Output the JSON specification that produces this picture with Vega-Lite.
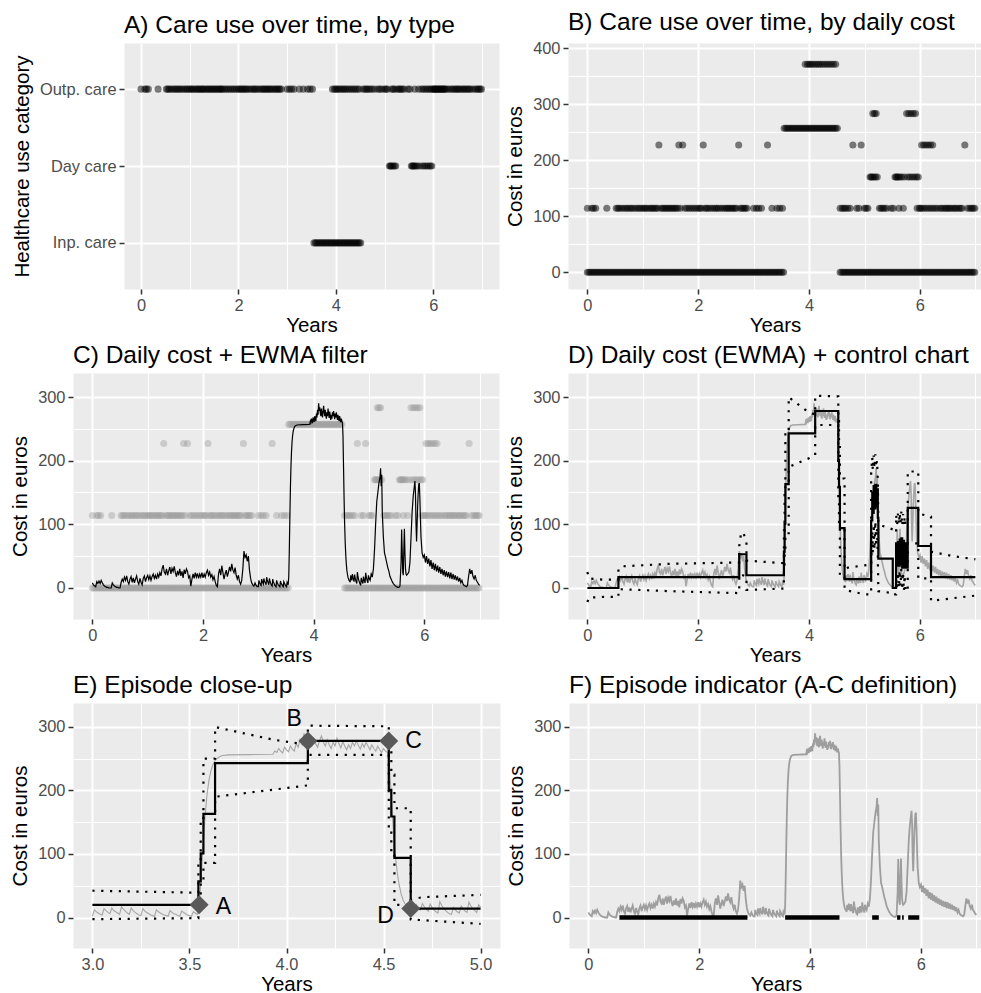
{
"$schema": "https://vega.github.io/schema/vega-lite/v6.json",
"background": "white",
"padding": {"left": 10, "top": 9, "right": 0, "bottom": 0},
"autosize": {"type": "pad"},
"config": {
  "font": "Liberation Sans",
  "view": {"fill": "#EBEBEB", "stroke": "transparent"},
  "axis": {"domain": false, "gridColor": "#FFFFFF", "gridWidth": 2, "tickColor": "#333333", "tickSize": 5, "tickWidth": 1.5, "labelColor": "#4D4D4D", "labelFont": "Liberation Sans", "labelFontSize": 16.4, "labelPadding": 3, "titleFont": "Liberation Sans", "titleFontSize": 20.5, "titleFontWeight": "normal", "titleColor": "#000000", "labelFlush": false, "labelOverlap": false},
  "axisX": {"titlePadding": 2},
  "axisY": {"titlePadding": 7},
  "title": {"anchor": "start", "frame": "group", "font": "Liberation Sans", "fontSize": 24.5, "fontWeight": "normal", "color": "#000000", "offset": 5, "baseline": "alphabetic"}
},
"datasets": {
"days": [
{"t":0,"v":0},{"t":0.03,"v":0},{"t":0.06,"v":0},{"t":0.09,"v":0},{"t":0.12,"v":0},{"t":0.15,"v":0},{"t":0.18,"v":0},{"t":0.21,"v":0},{"t":0.24,"v":0},{"t":0.27,"v":0},{"t":0.3,"v":0},{"t":0.33,"v":0},{"t":0.36,"v":0},{"t":0.39,"v":0},{"t":0.42,"v":0},{"t":0.45,"v":0},{"t":0.48,"v":0},{"t":0.51,"v":0},{"t":0.54,"v":0},{"t":0.57,"v":0},{"t":0.6,"v":0},{"t":0.63,"v":0},{"t":0.66,"v":0},{"t":0.69,"v":0},{"t":0.72,"v":0},{"t":0.75,"v":0},{"t":0.78,"v":0},{"t":0.81,"v":0},{"t":0.84,"v":0},{"t":0.87,"v":0},{"t":0.9,"v":0},{"t":0.93,"v":0},{"t":0.96,"v":0},{"t":0.99,"v":0},{"t":1.02,"v":0},{"t":1.05,"v":0},{"t":1.08,"v":0},{"t":1.11,"v":0},{"t":1.14,"v":0},{"t":1.17,"v":0},{"t":1.2,"v":0},{"t":1.23,"v":0},{"t":1.26,"v":0},{"t":1.29,"v":0},{"t":1.32,"v":0},{"t":1.35,"v":0},{"t":1.38,"v":0},{"t":1.41,"v":0},{"t":1.44,"v":0},{"t":1.47,"v":0},{"t":1.5,"v":0},{"t":1.53,"v":0},{"t":1.56,"v":0},{"t":1.59,"v":0},{"t":1.62,"v":0},{"t":1.65,"v":0},{"t":1.68,"v":0},{"t":1.71,"v":0},{"t":1.74,"v":0},{"t":1.77,"v":0},{"t":1.8,"v":0},{"t":1.83,"v":0},{"t":1.86,"v":0},{"t":1.89,"v":0},{"t":1.92,"v":0},{"t":1.95,"v":0},{"t":1.98,"v":0},{"t":2.01,"v":0},{"t":2.04,"v":0},{"t":2.07,"v":0},{"t":2.1,"v":0},{"t":2.13,"v":0},{"t":2.16,"v":0},{"t":2.19,"v":0},{"t":2.22,"v":0},{"t":2.25,"v":0},{"t":2.28,"v":0},{"t":2.31,"v":0},{"t":2.34,"v":0},{"t":2.37,"v":0},{"t":2.4,"v":0},{"t":2.43,"v":0},{"t":2.46,"v":0},{"t":2.49,"v":0},{"t":2.52,"v":0},{"t":2.55,"v":0},{"t":2.58,"v":0},{"t":2.61,"v":0},{"t":2.64,"v":0},{"t":2.67,"v":0},{"t":2.7,"v":0},{"t":2.73,"v":0},{"t":2.76,"v":0},{"t":2.79,"v":0},{"t":2.82,"v":0},{"t":2.85,"v":0},{"t":2.88,"v":0},{"t":2.91,"v":0},{"t":2.94,"v":0},{"t":2.97,"v":0},{"t":3,"v":0},{"t":3.03,"v":0},{"t":3.06,"v":0},{"t":3.09,"v":0},{"t":3.12,"v":0},{"t":3.15,"v":0},{"t":3.18,"v":0},{"t":3.21,"v":0},{"t":3.24,"v":0},{"t":3.27,"v":0},{"t":3.3,"v":0},{"t":3.33,"v":0},{"t":3.36,"v":0},{"t":3.39,"v":0},{"t":3.42,"v":0},{"t":3.45,"v":0},{"t":3.48,"v":0},{"t":3.51,"v":0},{"t":3.54,"v":0},
{"t":4.56,"v":0},{"t":4.59,"v":0},{"t":4.62,"v":0},{"t":4.65,"v":0},{"t":4.68,"v":0},{"t":4.71,"v":0},{"t":4.74,"v":0},{"t":4.77,"v":0},{"t":4.8,"v":0},{"t":4.83,"v":0},{"t":4.86,"v":0},{"t":4.89,"v":0},{"t":4.92,"v":0},{"t":4.95,"v":0},{"t":4.98,"v":0},{"t":5.01,"v":0},{"t":5.04,"v":0},{"t":5.07,"v":0},{"t":5.1,"v":0},{"t":5.13,"v":0},{"t":5.16,"v":0},{"t":5.19,"v":0},{"t":5.22,"v":0},{"t":5.25,"v":0},{"t":5.28,"v":0},{"t":5.31,"v":0},{"t":5.34,"v":0},{"t":5.37,"v":0},{"t":5.4,"v":0},{"t":5.43,"v":0},{"t":5.46,"v":0},{"t":5.49,"v":0},{"t":5.52,"v":0},{"t":5.55,"v":0},{"t":5.58,"v":0},{"t":5.61,"v":0},{"t":5.64,"v":0},{"t":5.67,"v":0},{"t":5.7,"v":0},{"t":5.73,"v":0},{"t":5.76,"v":0},{"t":5.79,"v":0},{"t":5.82,"v":0},{"t":5.85,"v":0},{"t":5.88,"v":0},{"t":5.91,"v":0},{"t":5.94,"v":0},{"t":5.97,"v":0},{"t":6,"v":0},{"t":6.03,"v":0},{"t":6.06,"v":0},{"t":6.09,"v":0},{"t":6.12,"v":0},{"t":6.15,"v":0},{"t":6.18,"v":0},{"t":6.21,"v":0},{"t":6.24,"v":0},{"t":6.27,"v":0},{"t":6.3,"v":0},{"t":6.33,"v":0},{"t":6.36,"v":0},{"t":6.39,"v":0},{"t":6.42,"v":0},{"t":6.45,"v":0},{"t":6.48,"v":0},{"t":6.51,"v":0},{"t":6.54,"v":0},{"t":6.57,"v":0},{"t":6.6,"v":0},{"t":6.63,"v":0},{"t":6.66,"v":0},{"t":6.69,"v":0},{"t":6.72,"v":0},{"t":6.75,"v":0},{"t":6.78,"v":0},{"t":6.81,"v":0},{"t":6.84,"v":0},{"t":6.87,"v":0},{"t":6.9,"v":0},{"t":6.93,"v":0},{"t":6.96,"v":0},{"t":6.99,"v":0},
{"t":3.55,"v":257,"k":"Inp. care"},{"t":3.58,"v":257,"k":"Inp. care"},{"t":3.61,"v":257,"k":"Inp. care"},{"t":3.64,"v":257,"k":"Inp. care"},{"t":3.67,"v":257,"k":"Inp. care"},{"t":3.7,"v":257,"k":"Inp. care"},{"t":3.73,"v":257,"k":"Inp. care"},{"t":3.76,"v":257,"k":"Inp. care"},{"t":3.79,"v":257,"k":"Inp. care"},{"t":3.82,"v":257,"k":"Inp. care"},{"t":3.85,"v":257,"k":"Inp. care"},{"t":3.88,"v":257,"k":"Inp. care"},{"t":3.91,"v":257,"k":"Inp. care"},{"t":3.94,"v":257,"k":"Inp. care"},{"t":3.97,"v":257,"k":"Inp. care"},{"t":4,"v":257,"k":"Inp. care"},{"t":4.03,"v":257,"k":"Inp. care"},{"t":4.06,"v":257,"k":"Inp. care"},{"t":4.09,"v":257,"k":"Inp. care"},{"t":4.12,"v":257,"k":"Inp. care"},{"t":4.15,"v":257,"k":"Inp. care"},{"t":4.18,"v":257,"k":"Inp. care"},{"t":4.21,"v":257,"k":"Inp. care"},{"t":4.24,"v":257,"k":"Inp. care"},{"t":4.27,"v":257,"k":"Inp. care"},{"t":4.3,"v":257,"k":"Inp. care"},{"t":4.33,"v":257,"k":"Inp. care"},{"t":4.36,"v":257,"k":"Inp. care"},{"t":4.39,"v":257,"k":"Inp. care"},{"t":4.42,"v":257,"k":"Inp. care"},{"t":4.45,"v":257,"k":"Inp. care"},{"t":4.48,"v":257,"k":"Inp. care"},{"t":4.51,"v":257,"k":"Inp. care"},
{"t":3.93,"v":371,"k":"Outp. care"},{"t":3.97,"v":371,"k":"Outp. care"},{"t":4,"v":371,"k":"Outp. care"},{"t":4.03,"v":371,"k":"Outp. care"},{"t":4.06,"v":371,"k":"Outp. care"},{"t":4.1,"v":371,"k":"Outp. care"},{"t":4.13,"v":371,"k":"Outp. care"},{"t":4.17,"v":371,"k":"Outp. care"},{"t":4.2,"v":371,"k":"Outp. care"},{"t":4.24,"v":371,"k":"Outp. care"},{"t":4.28,"v":371,"k":"Outp. care"},{"t":4.32,"v":371,"k":"Outp. care"},{"t":4.36,"v":371,"k":"Outp. care"},{"t":4.4,"v":371,"k":"Outp. care"},{"t":4.44,"v":371,"k":"Outp. care"},{"t":4.48,"v":371,"k":"Outp. care"},
{"t":0,"v":114,"k":"Outp. care"},{"t":0.08,"v":114,"k":"Outp. care"},{"t":0.11,"v":114,"k":"Outp. care"},{"t":0.15,"v":114,"k":"Outp. care"},{"t":0.35,"v":114,"k":"Outp. care"},{"t":0.52,"v":114,"k":"Outp. care"},{"t":0.55,"v":114,"k":"Outp. care"},{"t":0.58,"v":114,"k":"Outp. care"},{"t":0.62,"v":114,"k":"Outp. care"},{"t":0.66,"v":114,"k":"Outp. care"},{"t":0.7,"v":114,"k":"Outp. care"},{"t":0.73,"v":114,"k":"Outp. care"},{"t":0.77,"v":114,"k":"Outp. care"},{"t":0.8,"v":114,"k":"Outp. care"},{"t":0.84,"v":114,"k":"Outp. care"},{"t":0.88,"v":114,"k":"Outp. care"},{"t":0.92,"v":114,"k":"Outp. care"},{"t":0.95,"v":114,"k":"Outp. care"},{"t":0.99,"v":114,"k":"Outp. care"},{"t":1.02,"v":114,"k":"Outp. care"},{"t":1.05,"v":114,"k":"Outp. care"},{"t":1.08,"v":114,"k":"Outp. care"},{"t":1.12,"v":114,"k":"Outp. care"},{"t":1.15,"v":114,"k":"Outp. care"},{"t":1.18,"v":114,"k":"Outp. care"},{"t":1.21,"v":114,"k":"Outp. care"},{"t":1.24,"v":114,"k":"Outp. care"},{"t":1.27,"v":114,"k":"Outp. care"},{"t":1.33,"v":114,"k":"Outp. care"},{"t":1.36,"v":114,"k":"Outp. care"},{"t":1.39,"v":114,"k":"Outp. care"},{"t":1.42,"v":114,"k":"Outp. care"},{"t":1.45,"v":114,"k":"Outp. care"},{"t":1.48,"v":114,"k":"Outp. care"},{"t":1.51,"v":114,"k":"Outp. care"},{"t":1.54,"v":114,"k":"Outp. care"},{"t":1.57,"v":114,"k":"Outp. care"},{"t":1.6,"v":114,"k":"Outp. care"},{"t":1.63,"v":114,"k":"Outp. care"},{"t":1.68,"v":114,"k":"Outp. care"},{"t":1.76,"v":114,"k":"Outp. care"},{"t":1.8,"v":114,"k":"Outp. care"},{"t":1.84,"v":114,"k":"Outp. care"},{"t":1.88,"v":114,"k":"Outp. care"},{"t":1.92,"v":114,"k":"Outp. care"},{"t":1.96,"v":114,"k":"Outp. care"},{"t":2,"v":114,"k":"Outp. care"},{"t":2.03,"v":114,"k":"Outp. care"},{"t":2.06,"v":114,"k":"Outp. care"},{"t":2.12,"v":114,"k":"Outp. care"},{"t":2.15,"v":114,"k":"Outp. care"},{"t":2.18,"v":114,"k":"Outp. care"},{"t":2.22,"v":114,"k":"Outp. care"},{"t":2.26,"v":114,"k":"Outp. care"},{"t":2.3,"v":114,"k":"Outp. care"},{"t":2.33,"v":114,"k":"Outp. care"},{"t":2.36,"v":114,"k":"Outp. care"},{"t":2.4,"v":114,"k":"Outp. care"},{"t":2.44,"v":114,"k":"Outp. care"},{"t":2.48,"v":114,"k":"Outp. care"},{"t":2.51,"v":114,"k":"Outp. care"},{"t":2.54,"v":114,"k":"Outp. care"},{"t":2.57,"v":114,"k":"Outp. care"},{"t":2.6,"v":114,"k":"Outp. care"},{"t":2.63,"v":114,"k":"Outp. care"},{"t":2.66,"v":114,"k":"Outp. care"},{"t":2.69,"v":114,"k":"Outp. care"},{"t":2.76,"v":114,"k":"Outp. care"},{"t":2.79,"v":114,"k":"Outp. care"},{"t":2.82,"v":114,"k":"Outp. care"},{"t":2.85,"v":114,"k":"Outp. care"},{"t":2.88,"v":114,"k":"Outp. care"},{"t":3,"v":114,"k":"Outp. care"},{"t":3.05,"v":114,"k":"Outp. care"},{"t":3.09,"v":114,"k":"Outp. care"},{"t":3.14,"v":114,"k":"Outp. care"},{"t":3.33,"v":114,"k":"Outp. care"},{"t":3.42,"v":114,"k":"Outp. care"},{"t":3.47,"v":114,"k":"Outp. care"},{"t":3.52,"v":114,"k":"Outp. care"},{"t":4.56,"v":114,"k":"Outp. care"},{"t":4.6,"v":114,"k":"Outp. care"},{"t":4.63,"v":114,"k":"Outp. care"},{"t":4.66,"v":114,"k":"Outp. care"},{"t":4.7,"v":114,"k":"Outp. care"},{"t":4.74,"v":114,"k":"Outp. care"},{"t":4.86,"v":114,"k":"Outp. care"},{"t":4.9,"v":114,"k":"Outp. care"},{"t":5,"v":114,"k":"Outp. care"},{"t":5.03,"v":114,"k":"Outp. care"},{"t":5.06,"v":114,"k":"Outp. care"},{"t":5.27,"v":114,"k":"Outp. care"},{"t":5.3,"v":114,"k":"Outp. care"},{"t":5.33,"v":114,"k":"Outp. care"},{"t":5.36,"v":114,"k":"Outp. care"},{"t":5.4,"v":114,"k":"Outp. care"},{"t":5.48,"v":114,"k":"Outp. care"},{"t":5.52,"v":114,"k":"Outp. care"},{"t":5.62,"v":114,"k":"Outp. care"},{"t":5.7,"v":114,"k":"Outp. care"},{"t":5.95,"v":114,"k":"Outp. care"},{"t":5.99,"v":114,"k":"Outp. care"},{"t":6.01,"v":114,"k":"Outp. care"},{"t":6.04,"v":114,"k":"Outp. care"},{"t":6.08,"v":114,"k":"Outp. care"},{"t":6.12,"v":114,"k":"Outp. care"},{"t":6.16,"v":114,"k":"Outp. care"},{"t":6.2,"v":114,"k":"Outp. care"},{"t":6.24,"v":114,"k":"Outp. care"},{"t":6.28,"v":114,"k":"Outp. care"},{"t":6.32,"v":114,"k":"Outp. care"},{"t":6.37,"v":114,"k":"Outp. care"},{"t":6.4,"v":114,"k":"Outp. care"},{"t":6.44,"v":114,"k":"Outp. care"},{"t":6.47,"v":114,"k":"Outp. care"},{"t":6.5,"v":114,"k":"Outp. care"},{"t":6.53,"v":114,"k":"Outp. care"},{"t":6.56,"v":114,"k":"Outp. care"},{"t":6.6,"v":114,"k":"Outp. care"},{"t":6.63,"v":114,"k":"Outp. care"},{"t":6.66,"v":114,"k":"Outp. care"},{"t":6.7,"v":114,"k":"Outp. care"},{"t":6.73,"v":114,"k":"Outp. care"},{"t":6.76,"v":114,"k":"Outp. care"},{"t":6.86,"v":114,"k":"Outp. care"},{"t":6.9,"v":114,"k":"Outp. care"},{"t":6.93,"v":114,"k":"Outp. care"},{"t":6.96,"v":114,"k":"Outp. care"},{"t":6.99,"v":114,"k":"Outp. care"},
{"t":1.29,"v":227,"k":"Outp. care"},{"t":1.65,"v":227,"k":"Outp. care"},{"t":1.72,"v":227,"k":"Outp. care"},{"t":2.09,"v":227,"k":"Outp. care"},{"t":2.73,"v":227,"k":"Outp. care"},{"t":3.25,"v":227,"k":"Outp. care"},{"t":4.79,"v":227,"k":"Outp. care"},{"t":4.94,"v":227,"k":"Outp. care"},{"t":6.03,"v":227,"k":"Outp. care"},{"t":6.07,"v":227,"k":"Outp. care"},{"t":6.11,"v":227,"k":"Outp. care"},{"t":6.15,"v":227,"k":"Outp. care"},{"t":6.19,"v":227,"k":"Outp. care"},{"t":6.23,"v":227,"k":"Outp. care"},{"t":6.81,"v":227,"k":"Outp. care"},
{"t":5.15,"v":283,"k":"Outp. care"},{"t":5.18,"v":283,"k":"Outp. care"},{"t":5.21,"v":283,"k":"Outp. care"},{"t":5.76,"v":283,"k":"Outp. care"},{"t":5.8,"v":283,"k":"Outp. care"},{"t":5.84,"v":283,"k":"Outp. care"},{"t":5.88,"v":283,"k":"Outp. care"},{"t":5.92,"v":283,"k":"Outp. care"},
{"t":5.1,"v":170,"k":"Day care"},{"t":5.12,"v":170,"k":"Day care"},{"t":5.14,"v":170,"k":"Day care"},{"t":5.17,"v":170,"k":"Day care"},{"t":5.2,"v":170,"k":"Day care"},{"t":5.23,"v":170,"k":"Day care"},{"t":5.55,"v":170,"k":"Day care"},{"t":5.57,"v":170,"k":"Day care"},{"t":5.59,"v":170,"k":"Day care"},{"t":5.61,"v":170,"k":"Day care"},{"t":5.64,"v":170,"k":"Day care"},{"t":5.67,"v":170,"k":"Day care"},{"t":5.72,"v":170,"k":"Day care"},{"t":5.78,"v":170,"k":"Day care"},{"t":5.82,"v":170,"k":"Day care"},{"t":5.86,"v":170,"k":"Day care"},{"t":5.9,"v":170,"k":"Day care"},{"t":5.94,"v":170,"k":"Day care"},{"t":5.97,"v":170,"k":"Day care"}
],
"ewma": [
{"t":0,"v":8},{"t":0.02,"v":5},{"t":0.04,"v":3},{"t":0.06,"v":2},{"t":0.08,"v":10},{"t":0.1,"v":7},{"t":0.12,"v":11},{"t":0.14,"v":7},{"t":0.16,"v":12},{"t":0.18,"v":8},{"t":0.2,"v":5},{"t":0.22,"v":3},{"t":0.24,"v":2},{"t":0.26,"v":1},{"t":0.28,"v":1},{"t":0.3,"v":0},{"t":0.32,"v":0},{"t":0.34,"v":0},{"t":0.36,"v":8},{"t":0.38,"v":5},{"t":0.4,"v":3},{"t":0.42,"v":2},{"t":0.44,"v":1},{"t":0.46,"v":1},{"t":0.48,"v":0},{"t":0.5,"v":0},{"t":0.52,"v":9},{"t":0.54,"v":14},{"t":0.56,"v":10},{"t":0.58,"v":17},{"t":0.6,"v":12},{"t":0.62,"v":19},{"t":0.64,"v":10},{"t":0.66,"v":6},{"t":0.68,"v":14},{"t":0.7,"v":18},{"t":0.72,"v":9},{"t":0.74,"v":16},{"t":0.76,"v":8},{"t":0.78,"v":14},{"t":0.8,"v":19},{"t":0.82,"v":10},{"t":0.84,"v":6},{"t":0.86,"v":15},{"t":0.88,"v":9},{"t":0.9,"v":5},{"t":0.92,"v":15},{"t":0.94,"v":19},{"t":0.96,"v":10},{"t":0.98,"v":16},{"t":1,"v":20},{"t":1.02,"v":13},{"t":1.04,"v":19},{"t":1.06,"v":12},{"t":1.08,"v":18},{"t":1.1,"v":22},{"t":1.12,"v":15},{"t":1.14,"v":20},{"t":1.16,"v":14},{"t":1.18,"v":22},{"t":1.2,"v":17},{"t":1.22,"v":24},{"t":1.24,"v":19},{"t":1.26,"v":30},{"t":1.28,"v":36},{"t":1.3,"v":25},{"t":1.32,"v":22},{"t":1.34,"v":30},{"t":1.36,"v":20},{"t":1.38,"v":27},{"t":1.4,"v":33},{"t":1.42,"v":22},{"t":1.44,"v":31},{"t":1.46,"v":26},{"t":1.48,"v":34},{"t":1.5,"v":24},{"t":1.52,"v":18},{"t":1.54,"v":27},{"t":1.56,"v":20},{"t":1.58,"v":30},{"t":1.6,"v":19},{"t":1.62,"v":26},{"t":1.64,"v":16},{"t":1.66,"v":29},{"t":1.68,"v":22},{"t":1.7,"v":30},{"t":1.72,"v":26},{"t":1.74,"v":16},{"t":1.76,"v":19},{"t":1.78,"v":3},{"t":1.8,"v":14},{"t":1.82,"v":22},{"t":1.84,"v":15},{"t":1.86,"v":24},{"t":1.88,"v":17},{"t":1.9,"v":23},{"t":1.92,"v":15},{"t":1.94,"v":22},{"t":1.96,"v":17},{"t":1.98,"v":24},{"t":2,"v":16},{"t":2.02,"v":22},{"t":2.04,"v":17},{"t":2.06,"v":24},{"t":2.08,"v":28},{"t":2.1,"v":20},{"t":2.12,"v":25},{"t":2.14,"v":17},{"t":2.16,"v":21},{"t":2.18,"v":13},{"t":2.2,"v":18},{"t":2.22,"v":10},{"t":2.24,"v":4},{"t":2.26,"v":2},{"t":2.28,"v":22},{"t":2.3,"v":30},{"t":2.32,"v":20},{"t":2.34,"v":35},{"t":2.36,"v":24},{"t":2.38,"v":14},{"t":2.4,"v":22},{"t":2.42,"v":28},{"t":2.44,"v":18},{"t":2.46,"v":25},{"t":2.48,"v":33},{"t":2.5,"v":26},{"t":2.52,"v":38},{"t":2.54,"v":28},{"t":2.56,"v":24},{"t":2.58,"v":32},{"t":2.6,"v":20},{"t":2.62,"v":14},{"t":2.64,"v":20},{"t":2.66,"v":10},{"t":2.68,"v":6},{"t":2.7,"v":12},{"t":2.72,"v":30},{"t":2.74,"v":58},{"t":2.76,"v":48},{"t":2.78,"v":52},{"t":2.8,"v":42},{"t":2.82,"v":50},{"t":2.84,"v":28},{"t":2.86,"v":15},{"t":2.88,"v":8},{"t":2.9,"v":5},{"t":2.92,"v":3},{"t":2.94,"v":8},{"t":2.96,"v":4},{"t":2.98,"v":2},
{"t":3,"v":2},{"t":3.01,"v":12},{"t":3.02,"v":9},{"t":3.03,"v":7},{"t":3.04,"v":5},{"t":3.05,"v":4},{"t":3.06,"v":14},{"t":3.07,"v":11},{"t":3.08,"v":8},{"t":3.09,"v":6},{"t":3.1,"v":15},{"t":3.11,"v":11},{"t":3.12,"v":9},{"t":3.13,"v":7},{"t":3.14,"v":5},{"t":3.15,"v":17},{"t":3.16,"v":13},{"t":3.17,"v":10},{"t":3.18,"v":7},{"t":3.19,"v":5},{"t":3.2,"v":15},{"t":3.21,"v":11},{"t":3.22,"v":8},{"t":3.23,"v":6},{"t":3.24,"v":4},{"t":3.25,"v":3},{"t":3.26,"v":14},{"t":3.27,"v":10},{"t":3.28,"v":8},{"t":3.29,"v":6},{"t":3.3,"v":4},{"t":3.31,"v":3},{"t":3.32,"v":2},{"t":3.33,"v":12},{"t":3.34,"v":9},{"t":3.35,"v":7},{"t":3.36,"v":5},{"t":3.37,"v":4},{"t":3.38,"v":3},{"t":3.39,"v":2},{"t":3.4,"v":11},{"t":3.41,"v":8},{"t":3.42,"v":6},{"t":3.43,"v":5},{"t":3.44,"v":3},{"t":3.45,"v":2},{"t":3.46,"v":10},{"t":3.47,"v":8},{"t":3.48,"v":6},{"t":3.49,"v":4},{"t":3.5,"v":3},{"t":3.51,"v":2},{"t":3.52,"v":9},{"t":3.53,"v":7},{"t":3.54,"v":5},{"t":3.55,"v":18},{"t":3.56,"v":60},{"t":3.57,"v":112},{"t":3.58,"v":158},{"t":3.59,"v":192},{"t":3.6,"v":215},{"t":3.61,"v":230},{"t":3.62,"v":240},{"t":3.63,"v":246},{"t":3.64,"v":250},{"t":3.65,"v":252},{"t":3.66,"v":254},{"t":3.67,"v":255},{"t":3.7,"v":256},{"t":3.8,"v":256.5},{"t":3.93,"v":257},{"t":3.94,"v":262},{"t":3.95,"v":260},{"t":3.96,"v":266},{"t":3.97,"v":262},{"t":3.98,"v":259},{"t":3.99,"v":268},{"t":4,"v":264},{"t":4.01,"v":261},{"t":4.02,"v":270},{"t":4.03,"v":265},{"t":4.04,"v":262},{"t":4.05,"v":274},{"t":4.06,"v":268},{"t":4.07,"v":280},{"t":4.08,"v":272},{"t":4.09,"v":290},{"t":4.1,"v":278},{"t":4.11,"v":284},{"t":4.12,"v":275},{"t":4.13,"v":270},{"t":4.14,"v":282},{"t":4.15,"v":274},{"t":4.16,"v":268},{"t":4.17,"v":278},{"t":4.18,"v":286},{"t":4.19,"v":276},{"t":4.2,"v":270},{"t":4.21,"v":280},{"t":4.22,"v":272},{"t":4.23,"v":266},{"t":4.24,"v":276},{"t":4.25,"v":270},{"t":4.26,"v":282},{"t":4.27,"v":274},{"t":4.28,"v":267},{"t":4.29,"v":277},{"t":4.3,"v":270},{"t":4.31,"v":264},{"t":4.32,"v":272},{"t":4.33,"v":266},{"t":4.34,"v":276},{"t":4.35,"v":270},{"t":4.36,"v":278},{"t":4.37,"v":271},{"t":4.38,"v":265},{"t":4.39,"v":274},{"t":4.4,"v":268},{"t":4.41,"v":276},{"t":4.42,"v":270},{"t":4.43,"v":264},{"t":4.44,"v":272},{"t":4.45,"v":266},{"t":4.46,"v":262},{"t":4.47,"v":270},{"t":4.48,"v":264},{"t":4.49,"v":260},{"t":4.5,"v":266},{"t":4.51,"v":262},{"t":4.52,"v":260},{"t":4.53,"v":240},{"t":4.54,"v":190},{"t":4.55,"v":140},{"t":4.56,"v":100},{"t":4.57,"v":72},{"t":4.58,"v":52},{"t":4.59,"v":38},{"t":4.6,"v":28},{"t":4.61,"v":22},{"t":4.62,"v":17},{"t":4.63,"v":14},{"t":4.64,"v":12},{"t":4.65,"v":11},{"t":4.66,"v":9},{"t":4.67,"v":20},{"t":4.68,"v":15},{"t":4.69,"v":12},{"t":4.7,"v":22},{"t":4.71,"v":17},{"t":4.72,"v":13},{"t":4.73,"v":10},{"t":4.74,"v":21},{"t":4.75,"v":16},{"t":4.76,"v":12},{"t":4.77,"v":9},{"t":4.78,"v":7},{"t":4.79,"v":25},{"t":4.8,"v":19},{"t":4.81,"v":14},{"t":4.82,"v":11},{"t":4.83,"v":8},{"t":4.84,"v":6},{"t":4.85,"v":5},{"t":4.86,"v":16},{"t":4.87,"v":12},{"t":4.88,"v":9},{"t":4.89,"v":7},{"t":4.9,"v":18},{"t":4.91,"v":14},{"t":4.92,"v":10},{"t":4.93,"v":8},{"t":4.94,"v":24},{"t":4.95,"v":18},{"t":4.96,"v":14},{"t":4.97,"v":11},{"t":4.98,"v":8},{"t":4.99,"v":20},{"t":5,"v":16},
{"t":5.02,"v":12},{"t":5.04,"v":22},{"t":5.06,"v":17},{"t":5.08,"v":30},{"t":5.1,"v":60},{"t":5.12,"v":100},{"t":5.14,"v":135},{"t":5.16,"v":150},{"t":5.18,"v":165},{"t":5.2,"v":175},{"t":5.21,"v":188},{"t":5.22,"v":160},{"t":5.23,"v":178},{"t":5.24,"v":120},{"t":5.26,"v":80},{"t":5.28,"v":55},{"t":5.3,"v":48},{"t":5.32,"v":40},{"t":5.34,"v":32},{"t":5.36,"v":26},{"t":5.38,"v":18},{"t":5.4,"v":14},{"t":5.42,"v":10},{"t":5.44,"v":7},{"t":5.46,"v":5},{"t":5.48,"v":3},{"t":5.5,"v":2},{"t":5.52,"v":1},{"t":5.54,"v":1},{"t":5.56,"v":3},{"t":5.58,"v":40},{"t":5.59,"v":92},{"t":5.6,"v":60},{"t":5.61,"v":25},{"t":5.62,"v":20},{"t":5.63,"v":60},{"t":5.64,"v":93},{"t":5.65,"v":55},{"t":5.66,"v":30},{"t":5.67,"v":22},{"t":5.68,"v":20},{"t":5.7,"v":22},{"t":5.72,"v":25},{"t":5.74,"v":40},{"t":5.76,"v":80},{"t":5.78,"v":120},{"t":5.8,"v":145},{"t":5.82,"v":160},{"t":5.83,"v":168},{"t":5.84,"v":150},{"t":5.85,"v":100},{"t":5.86,"v":73},{"t":5.87,"v":100},{"t":5.88,"v":130},{"t":5.89,"v":150},{"t":5.9,"v":163},{"t":5.91,"v":165},{"t":5.92,"v":140},{"t":5.93,"v":110},{"t":5.94,"v":80},{"t":5.96,"v":55},{"t":5.98,"v":48},{"t":6,"v":52},{"t":6.02,"v":40},{"t":6.04,"v":50},{"t":6.06,"v":38},{"t":6.08,"v":46},{"t":6.1,"v":34},{"t":6.12,"v":44},{"t":6.14,"v":30},{"t":6.16,"v":40},{"t":6.18,"v":28},{"t":6.2,"v":38},{"t":6.22,"v":26},{"t":6.24,"v":35},{"t":6.26,"v":24},{"t":6.28,"v":33},{"t":6.3,"v":22},{"t":6.32,"v":30},{"t":6.34,"v":20},{"t":6.36,"v":28},{"t":6.38,"v":18},{"t":6.4,"v":26},{"t":6.42,"v":17},{"t":6.44,"v":25},{"t":6.46,"v":15},{"t":6.48,"v":24},{"t":6.5,"v":14},{"t":6.52,"v":22},{"t":6.54,"v":13},{"t":6.56,"v":20},{"t":6.58,"v":12},{"t":6.6,"v":18},{"t":6.62,"v":10},{"t":6.64,"v":16},{"t":6.66,"v":8},{"t":6.68,"v":12},{"t":6.7,"v":6},{"t":6.72,"v":4},{"t":6.74,"v":3},{"t":6.76,"v":2},{"t":6.78,"v":4},{"t":6.8,"v":18},{"t":6.82,"v":30},{"t":6.84,"v":22},{"t":6.86,"v":28},{"t":6.88,"v":18},{"t":6.9,"v":14},{"t":6.92,"v":20},{"t":6.94,"v":12},{"t":6.96,"v":9},{"t":6.98,"v":6},{"t":7,"v":4}
],
"cl": [
{"t":0,"v":0},{"t":0.56,"v":17},{"t":2.74,"v":53},{"t":2.87,"v":20},{"t":3,"v":20},{"t":3.546,"v":57},{"t":3.558,"v":101},{"t":3.572,"v":163},{"t":3.632,"v":243},{"t":4.11,"v":278},{"t":4.527,"v":201},{"t":4.54,"v":159},{"t":4.556,"v":94},{"t":4.64,"v":14},{"t":5,"v":14},{"t":5.12,"v":106},{"t":5.14,"v":150},{"t":5.15,"v":118},{"t":5.165,"v":160},{"t":5.18,"v":125},{"t":5.195,"v":162},{"t":5.21,"v":128},{"t":5.225,"v":155},{"t":5.24,"v":110},{"t":5.25,"v":46},{"t":5.51,"v":0},{"t":5.57,"v":70},{"t":5.59,"v":35},{"t":5.605,"v":72},{"t":5.62,"v":35},{"t":5.635,"v":76},{"t":5.65,"v":38},{"t":5.665,"v":78},{"t":5.68,"v":32},{"t":5.695,"v":74},{"t":5.71,"v":33},{"t":5.725,"v":70},{"t":5.74,"v":32},{"t":5.78,"v":126},{"t":5.97,"v":66},{"t":6.2,"v":17},{"t":7,"v":17}
],
"lim": [
{"g":"u","i":1,"t":0,"v":25},{"g":"u","i":2,"t":0.03,"v":15},{"g":"u","i":3,"t":0.3,"v":13},{"g":"u","i":4,"t":0.56,"v":13},{"g":"u","i":5,"t":0.56,"v":30},{"g":"u","i":6,"t":0.62,"v":34},{"g":"u","i":7,"t":1.5,"v":38},{"g":"u","i":8,"t":2.74,"v":40},{"g":"u","i":9,"t":2.74,"v":66},{"g":"u","i":10,"t":2.77,"v":84},{"g":"u","i":11,"t":2.81,"v":88},{"g":"u","i":12,"t":2.87,"v":72},{"g":"u","i":13,"t":2.87,"v":43},{"g":"u","i":13.5,"t":3,"v":42.2},{"g":"u","i":14,"t":3.2,"v":41},{"g":"u","i":15,"t":3.546,"v":39},{"g":"u","i":16,"t":3.546,"v":90},{"g":"u","i":17,"t":3.558,"v":90},{"g":"u","i":18,"t":3.558,"v":150},{"g":"u","i":19,"t":3.572,"v":150},{"g":"u","i":20,"t":3.572,"v":250},{"g":"u","i":21,"t":3.632,"v":250},{"g":"u","i":22,"t":3.632,"v":300},{"g":"u","i":23,"t":3.66,"v":298},{"g":"u","i":24,"t":3.93,"v":280},{"g":"u","i":25,"t":4.11,"v":272},{"g":"u","i":26,"t":4.11,"v":302},{"g":"u","i":27,"t":4.527,"v":301},{"g":"u","i":28,"t":4.527,"v":262},{"g":"u","i":29,"t":4.54,"v":262},{"g":"u","i":30,"t":4.54,"v":225},{"g":"u","i":31,"t":4.556,"v":225},{"g":"u","i":32,"t":4.556,"v":172},{"g":"u","i":33,"t":4.64,"v":172},{"g":"u","i":34,"t":4.64,"v":28},{"g":"u","i":35,"t":4.7,"v":32},{"g":"u","i":35.5,"t":5,"v":35.6},{"g":"u","i":36,"t":5.12,"v":37},{"g":"u","i":37,"t":5.12,"v":180},{"g":"u","i":38,"t":5.14,"v":205},{"g":"u","i":39,"t":5.15,"v":185},{"g":"u","i":40,"t":5.165,"v":208},{"g":"u","i":41,"t":5.18,"v":188},{"g":"u","i":42,"t":5.195,"v":210},{"g":"u","i":43,"t":5.21,"v":190},{"g":"u","i":44,"t":5.225,"v":200},{"g":"u","i":45,"t":5.24,"v":170},{"g":"u","i":46,"t":5.25,"v":100},{"g":"u","i":47,"t":5.51,"v":92},{"g":"u","i":48,"t":5.51,"v":88},{"g":"u","i":49,"t":5.57,"v":88},{"g":"u","i":50,"t":5.57,"v":115},{"g":"u","i":51,"t":5.59,"v":100},{"g":"u","i":52,"t":5.605,"v":117},{"g":"u","i":53,"t":5.62,"v":100},{"g":"u","i":54,"t":5.635,"v":118},{"g":"u","i":55,"t":5.65,"v":102},{"g":"u","i":56,"t":5.665,"v":120},{"g":"u","i":57,"t":5.68,"v":98},{"g":"u","i":58,"t":5.695,"v":116},{"g":"u","i":59,"t":5.71,"v":98},{"g":"u","i":60,"t":5.725,"v":112},{"g":"u","i":61,"t":5.74,"v":100},{"g":"u","i":62,"t":5.78,"v":100},{"g":"u","i":63,"t":5.78,"v":183},{"g":"u","i":64,"t":5.97,"v":183},{"g":"u","i":65,"t":5.97,"v":117},{"g":"u","i":66,"t":6.2,"v":112},{"g":"u","i":67,"t":6.2,"v":57},{"g":"u","i":68,"t":6.6,"v":50},{"g":"u","i":69,"t":7,"v":45},
{"g":"l","i":1,"t":0,"v":-22},{"g":"l","i":2,"t":0.03,"v":-15},{"g":"l","i":3,"t":0.3,"v":-14},{"g":"l","i":4,"t":0.56,"v":-14},{"g":"l","i":5,"t":0.56,"v":-2},{"g":"l","i":6,"t":0.62,"v":-2},{"g":"l","i":7,"t":1.5,"v":-5},{"g":"l","i":8,"t":2.74,"v":-8},{"g":"l","i":9,"t":2.74,"v":22},{"g":"l","i":10,"t":2.87,"v":18},{"g":"l","i":11,"t":2.87,"v":-3},{"g":"l","i":11.5,"t":3,"v":-2.6},{"g":"l","i":12,"t":3.2,"v":-2},{"g":"l","i":13,"t":3.546,"v":-1},{"g":"l","i":14,"t":3.546,"v":28},{"g":"l","i":15,"t":3.558,"v":28},{"g":"l","i":16,"t":3.558,"v":58},{"g":"l","i":17,"t":3.572,"v":58},{"g":"l","i":18,"t":3.572,"v":86},{"g":"l","i":19,"t":3.632,"v":86},{"g":"l","i":20,"t":3.632,"v":190},{"g":"l","i":21,"t":4.11,"v":208},{"g":"l","i":22,"t":4.11,"v":256},{"g":"l","i":23,"t":4.527,"v":256},{"g":"l","i":24,"t":4.527,"v":140},{"g":"l","i":25,"t":4.54,"v":140},{"g":"l","i":26,"t":4.54,"v":100},{"g":"l","i":27,"t":4.556,"v":100},{"g":"l","i":28,"t":4.556,"v":20},{"g":"l","i":29,"t":4.64,"v":20},{"g":"l","i":30,"t":4.64,"v":-3},{"g":"l","i":31,"t":5,"v":-10},{"g":"l","i":32,"t":5.12,"v":-10},{"g":"l","i":33,"t":5.12,"v":40},{"g":"l","i":34,"t":5.14,"v":90},{"g":"l","i":35,"t":5.15,"v":55},{"g":"l","i":36,"t":5.165,"v":100},{"g":"l","i":37,"t":5.18,"v":60},{"g":"l","i":38,"t":5.195,"v":105},{"g":"l","i":39,"t":5.21,"v":65},{"g":"l","i":40,"t":5.225,"v":95},{"g":"l","i":41,"t":5.24,"v":50},{"g":"l","i":42,"t":5.25,"v":-5},{"g":"l","i":43,"t":5.51,"v":-8},{"g":"l","i":44,"t":5.51,"v":-10},{"g":"l","i":45,"t":5.57,"v":-10},{"g":"l","i":46,"t":5.57,"v":20},{"g":"l","i":47,"t":5.59,"v":0},{"g":"l","i":48,"t":5.605,"v":25},{"g":"l","i":49,"t":5.62,"v":0},{"g":"l","i":50,"t":5.635,"v":28},{"g":"l","i":51,"t":5.65,"v":3},{"g":"l","i":52,"t":5.665,"v":30},{"g":"l","i":53,"t":5.68,"v":-3},{"g":"l","i":54,"t":5.695,"v":25},{"g":"l","i":55,"t":5.71,"v":-5},{"g":"l","i":56,"t":5.725,"v":20},{"g":"l","i":57,"t":5.74,"v":-5},{"g":"l","i":58,"t":5.78,"v":-5},{"g":"l","i":59,"t":5.78,"v":70},{"g":"l","i":60,"t":5.97,"v":70},{"g":"l","i":61,"t":5.97,"v":15},{"g":"l","i":62,"t":6.2,"v":15},{"g":"l","i":63,"t":6.2,"v":-20},{"g":"l","i":64,"t":7,"v":-12}
],
"marks": [{"t":3.55,"v":20},{"t":4.11,"v":278},{"t":4.527,"v":278},{"t":4.64,"v":14}],
"labs": [{"t":3.675,"v":17,"s":"A"},{"t":4.04,"v":312,"s":"B"},{"t":4.655,"v":278,"s":"C"},{"t":4.51,"v":2,"s":"D"}],
"ep": [{"t":0.56,"t2":2.87,"v":0},{"t":3.55,"t2":4.53,"v":0},{"t":5.12,"t2":5.24,"v":0},{"t":5.57,"t2":5.63,"v":0},{"t":5.66,"t2":5.69,"v":0},{"t":5.77,"t2":5.97,"v":0}],
"none": []
},
"concat": [
{"hconcat": [
  {"width": 51, "height": 246, "view": {"fill": "transparent", "stroke": "transparent"}, "data": {"name": "none"}, "mark": "point", "encoding": {}},
  {"hconcat": [
  {"width": 375, "height": 246, "title": {"text": "A) Care use over time, by type"},
   "data": {"name": "days"},
   "transform": [{"filter": "isValid(datum.k)"}],
   "mark": {"type": "circle", "size": 50, "opacity": 0.5, "color": "#000000"},
   "encoding": {
     "x": {"field": "t", "type": "quantitative", "scale": {"domain": [-0.35, 7.35], "nice": false, "zero": false},
       "axis": {"title": "Years", "values": [0,1,2,3,4,5,6,7], "labelExpr": "datum.value % 2 === 0 ? datum.label : ''", "gridWidth": {"condition": {"test": "datum.value % 2 === 0", "value": 2}, "value": 1}, "tickOpacity": {"condition": {"test": "datum.value % 2 === 0", "value": 1}, "value": 0}}},
     "y": {"field": "k", "type": "nominal", "scale": {"type": "point", "padding": 0.6, "domain": ["Outp. care", "Day care", "Inp. care"]},
       "axis": {"title": "Healthcare use category", "grid": true, "gridWidth": 2}}
   }},
  {"width": 414, "height": 246, "title": {"text": "B) Care use over time, by daily cost"},
   "data": {"name": "days"},
   "mark": {"type": "circle", "size": 50, "opacity": 0.5, "color": "#000000"},
   "encoding": {
     "x": {"field": "t", "type": "quantitative", "scale": {"domain": [-0.35, 7.12], "nice": false, "zero": false},
       "axis": {"title": "Years", "values": [0,1,2,3,4,5,6,7], "labelExpr": "datum.value % 2 === 0 ? datum.label : ''", "gridWidth": {"condition": {"test": "datum.value % 2 === 0", "value": 2}, "value": 1}, "tickOpacity": {"condition": {"test": "datum.value % 2 === 0", "value": 1}, "value": 0}}},
     "y": {"field": "v", "type": "quantitative", "scale": {"domain": [-30, 409], "nice": false, "zero": false},
       "axis": {"title": "Cost in euros", "values": [0,50,100,150,200,250,300,350,400], "labelExpr": "datum.value % 100 === 0 ? datum.label : ''", "gridWidth": {"condition": {"test": "datum.value % 100 === 0", "value": 2}, "value": 1}, "tickOpacity": {"condition": {"test": "datum.value % 100 === 0", "value": 1}, "value": 0}}}
   }}
  ], "spacing": 69, "bounds": "flush"}
 ], "spacing": 0, "bounds": "flush"},
{"hconcat": [
  {"width": 426, "height": 246, "title": {"text": "C) Daily cost + EWMA filter"},
   "encoding": {
     "x": {"field": "t", "type": "quantitative", "scale": {"domain": [-0.35, 7.35], "nice": false, "zero": false},
       "axis": {"title": "Years", "values": [0,1,2,3,4,5,6,7], "labelExpr": "datum.value % 2 === 0 ? datum.label : ''", "gridWidth": {"condition": {"test": "datum.value % 2 === 0", "value": 2}, "value": 1}, "tickOpacity": {"condition": {"test": "datum.value % 2 === 0", "value": 1}, "value": 0}}},
     "y": {"field": "v", "type": "quantitative", "scale": {"domain": [-48.7, 337.7], "nice": false, "zero": false},
       "axis": {"title": "Cost in euros", "values": [0,50,100,150,200,250,300], "labelExpr": "datum.value % 100 === 0 ? datum.label : ''", "gridWidth": {"condition": {"test": "datum.value % 100 === 0", "value": 2}, "value": 1}, "tickOpacity": {"condition": {"test": "datum.value % 100 === 0", "value": 1}, "value": 0}}}
   },
   "layer": [
     {"data": {"name": "days"}, "mark": {"type": "circle", "size": 50, "opacity": 0.4, "color": "#999999", "clip": true}},
     {"data": {"name": "ewma"}, "mark": {"type": "line", "color": "#000000", "strokeWidth": 1.2}, "encoding": {}}
   ]},
  {"width": 414, "height": 246, "title": {"text": "D) Daily cost (EWMA) + control chart"},
   "encoding": {
     "x": {"field": "t", "type": "quantitative", "scale": {"domain": [-0.35, 7.12], "nice": false, "zero": false},
       "axis": {"title": "Years", "values": [0,1,2,3,4,5,6,7], "labelExpr": "datum.value % 2 === 0 ? datum.label : ''", "gridWidth": {"condition": {"test": "datum.value % 2 === 0", "value": 2}, "value": 1}, "tickOpacity": {"condition": {"test": "datum.value % 2 === 0", "value": 1}, "value": 0}}},
     "y": {"field": "v", "type": "quantitative", "scale": {"domain": [-48.7, 337.7], "nice": false, "zero": false},
       "axis": {"title": "Cost in euros", "values": [0,50,100,150,200,250,300], "labelExpr": "datum.value % 100 === 0 ? datum.label : ''", "gridWidth": {"condition": {"test": "datum.value % 100 === 0", "value": 2}, "value": 1}, "tickOpacity": {"condition": {"test": "datum.value % 100 === 0", "value": 1}, "value": 0}}}
   },
   "layer": [
     {"data": {"name": "ewma"}, "mark": {"type": "line", "color": "#A6A6A6", "strokeWidth": 1.6}, "encoding": {}},
     {"data": {"name": "cl"}, "mark": {"type": "line", "color": "#000000", "strokeWidth": 2.2, "interpolate": "step-after"}, "encoding": {}},
     {"data": {"name": "lim"}, "mark": {"type": "line", "color": "#000000", "strokeWidth": 2.2, "strokeDash": [2.2, 6.6]},
      "encoding": {"detail": {"field": "g"}, "order": {"field": "i", "type": "quantitative"}}}
   ]}
 ], "spacing": 69, "bounds": "flush"},
{"hconcat": [
  {"width": 427, "height": 245, "title": {"text": "E) Episode close-up"},
   "encoding": {
     "x": {"field": "t", "type": "quantitative", "scale": {"domain": [2.9, 5.1], "nice": false, "zero": false},
       "axis": {"title": "Years", "values": [3,3.25,3.5,3.75,4,4.25,4.5,4.75,5], "format": ".1f", "labelExpr": "datum.value % 0.5 === 0 ? datum.label : ''", "gridWidth": {"condition": {"test": "datum.value % 0.5 === 0", "value": 2}, "value": 1}, "tickOpacity": {"condition": {"test": "datum.value % 0.5 === 0", "value": 1}, "value": 0}}},
     "y": {"field": "v", "type": "quantitative", "scale": {"domain": [-48, 337.7], "nice": false, "zero": false},
       "axis": {"title": "Cost in euros", "values": [0,50,100,150,200,250,300], "labelExpr": "datum.value % 100 === 0 ? datum.label : ''", "gridWidth": {"condition": {"test": "datum.value % 100 === 0", "value": 2}, "value": 1}, "tickOpacity": {"condition": {"test": "datum.value % 100 === 0", "value": 1}, "value": 0}}}
   },
   "layer": [
     {"data": {"name": "ewma"}, "transform": [{"filter": "datum.t >= 3 && datum.t <= 5"}], "mark": {"type": "line", "color": "#A6A6A6", "strokeWidth": 1.1, "clip": true}, "encoding": {}},
     {"data": {"name": "cl"}, "transform": [{"filter": "datum.t >= 3 && datum.t <= 5"}], "mark": {"type": "line", "color": "#000000", "strokeWidth": 2.2, "interpolate": "step-after", "clip": true}, "encoding": {}},
     {"data": {"name": "lim"}, "transform": [{"filter": "datum.t >= 3 && datum.t <= 5"}], "mark": {"type": "line", "color": "#000000", "strokeWidth": 2.2, "strokeDash": [2.2, 6.6], "clip": true},
      "encoding": {"detail": {"field": "g"}, "order": {"field": "i", "type": "quantitative"}}},
     {"data": {"name": "marks"}, "mark": {"type": "point", "shape": "diamond", "filled": true, "size": 360, "color": "#595959", "opacity": 1}},
     {"data": {"name": "labs"}, "mark": {"type": "text", "fontSize": 23, "font": "Liberation Sans", "color": "#000000", "align": "center", "baseline": "middle"},
      "encoding": {"text": {"field": "s"}}}
   ]},
  {"width": 414, "height": 245, "title": {"text": "F) Episode indicator (A-C definition)"},
   "encoding": {
     "x": {"field": "t", "type": "quantitative", "scale": {"domain": [-0.35, 7.12], "nice": false, "zero": false},
       "axis": {"title": "Years", "values": [0,1,2,3,4,5,6,7], "labelExpr": "datum.value % 2 === 0 ? datum.label : ''", "gridWidth": {"condition": {"test": "datum.value % 2 === 0", "value": 2}, "value": 1}, "tickOpacity": {"condition": {"test": "datum.value % 2 === 0", "value": 1}, "value": 0}}},
     "y": {"field": "v", "type": "quantitative", "scale": {"domain": [-48, 337.7], "nice": false, "zero": false},
       "axis": {"title": "Cost in euros", "values": [0,50,100,150,200,250,300], "labelExpr": "datum.value % 100 === 0 ? datum.label : ''", "gridWidth": {"condition": {"test": "datum.value % 100 === 0", "value": 2}, "value": 1}, "tickOpacity": {"condition": {"test": "datum.value % 100 === 0", "value": 1}, "value": 0}}}
   },
   "layer": [
     {"data": {"name": "ewma"}, "mark": {"type": "line", "color": "#9E9E9E", "strokeWidth": 1.8}, "encoding": {}},
     {"data": {"name": "ep"}, "mark": {"type": "rule", "color": "#000000", "strokeWidth": 4.5}, "encoding": {"x2": {"field": "t2"}}}
   ]}
 ], "spacing": 69, "bounds": "flush"}
],
"columns": 1,
"align": "none",
"spacing": 5
}
